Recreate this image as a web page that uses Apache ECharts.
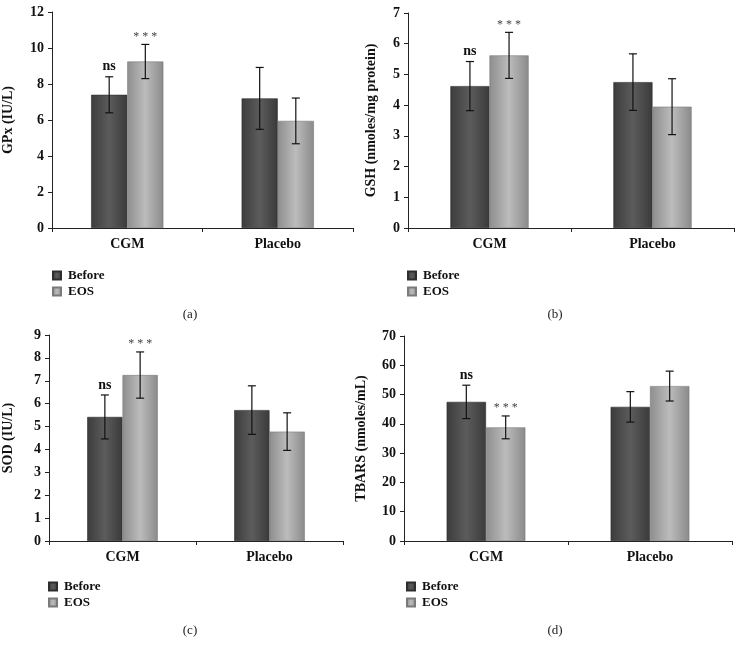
<!DOCTYPE html>
<html>
<head>
<meta charset="utf-8">
<script src="https://cdn.jsdelivr.net/npm/echarts@6/dist/echarts.min.js"></script>
<style>
  html, body { margin: 0; padding: 0; background: #fff; }
  #chart { width: 743px; height: 650px; }
</style>
</head>
<body>
<div id="chart"></div>
<script>
// data (mean, and half-length of error bar)
const categories = ["CGM", "Placebo"];
const seriesNames = ["Before", "EOS"];

const gpxBefore = [7.4, 7.2];
const gpxBeforeErr = [1.0, 1.72];
const gpxEos = [9.25, 5.95];
const gpxEosErr = [0.95, 1.27];

const gshBefore = [4.62, 4.75];
const gshBeforeErr = [0.8, 0.92];
const gshEos = [5.62, 3.95];
const gshEosErr = [0.75, 0.91];

const sodBefore = [5.42, 5.72];
const sodBeforeErr = [0.96, 1.06];
const sodEos = [7.25, 4.78];
const sodEosErr = [1.01, 0.82];

const tbarsBefore = [47.5, 45.8];
const tbarsBeforeErr = [5.7, 5.2];
const tbarsEos = [38.8, 52.9];
const tbarsEosErr = [3.9, 5.1];

const beforeSig = ["ns", ""];
const eosSig = ["***", ""];

const panels = [
  { name: "GPx (IU/L)", tag: "(a)", max: 12, step: 2, before: gpxBefore, beforeErr: gpxBeforeErr, eos: gpxEos, eosErr: gpxEosErr,
    grid: { left: 51, top: 12, width: 302, height: 216 }, nameGap: 37, legend: { left: 52, top: 269 }, title: { left: 185, top: 303 } },
  { name: "GSH (nmoles/mg protein)", tag: "(b)", max: 7, step: 1, before: gshBefore, beforeErr: gshBeforeErr, eos: gshEos, eosErr: gshEosErr,
    grid: { left: 408, top: 13, width: 326, height: 215 }, nameGap: 30, legend: { left: 407, top: 269 }, title: { left: 550, top: 303 } },
  { name: "SOD (IU/L)", tag: "(c)", max: 9, step: 1, before: sodBefore, beforeErr: sodBeforeErr, eos: sodEos, eosErr: sodEosErr,
    grid: { left: 48, top: 335, width: 295, height: 206 }, nameGap: 34, legend: { left: 48, top: 580 }, title: { left: 185, top: 619 } },
  { name: "TBARS (nmoles/mL)", tag: "(d)", max: 70, step: 10, before: tbarsBefore, beforeErr: tbarsBeforeErr, eos: tbarsEos, eosErr: tbarsEosErr,
    grid: { left: 404, top: 336, width: 328, height: 205 }, nameGap: 36, legend: { left: 406, top: 580 }, title: { left: 550, top: 619 } }
];

const serif = "'Liberation Serif', 'DejaVu Serif', serif";
const barWidthFrac = 0.24;

const beforeFill = new echarts.graphic.LinearGradient(0, 0, 1, 0, [
  { offset: 0, color: "#3c3c3c" },
  { offset: 0.5, color: "#5c5c5c" },
  { offset: 1, color: "#3a3a3a" }
]);
const eosFill = new echarts.graphic.LinearGradient(0, 0, 1, 0, [
  { offset: 0, color: "#8e8e8e" },
  { offset: 0.5, color: "#bcbcbc" },
  { offset: 1, color: "#8a8a8a" }
]);

function errorItem(side) {
  return function (params, api) {
    const cat = api.value(0);
    const lo = api.coord([cat, api.value(1)]);
    const hi = api.coord([cat, api.value(2)]);
    const band = api.size([1, 0])[0];
    const x = lo[0] + side * band * barWidthFrac / 2;
    const cap = 4;
    const lineStyle = { stroke: "#111", lineWidth: 1.2 };
    const children = [
      { type: "line", shape: { x1: x, y1: lo[1], x2: x, y2: hi[1] }, style: lineStyle },
      { type: "line", shape: { x1: x - cap, y1: lo[1], x2: x + cap, y2: lo[1] }, style: lineStyle },
      { type: "line", shape: { x1: x - cap, y1: hi[1], x2: x + cap, y2: hi[1] }, style: lineStyle }
    ];
    const sig = api.value(3);
    if (sig) {
      const isNs = sig === "ns";
      children.push({
        type: "text",
        style: {
          text: isNs ? sig : sig.split("").join(" "), x: x, y: hi[1] - (isNs ? 3 : 2),
          textAlign: "center", textVerticalAlign: "bottom",
          fill: isNs ? "#111" : "#444",
          font: (isNs ? "bold 14px " : "12px ") + serif
        }
      });
    }
    return { type: "group", children: children };
  };
}

const option = {
  animation: false,
  backgroundColor: "#fff",
  title: [],
  legend: [],
  grid: [],
  xAxis: [],
  yAxis: [],
  series: []
};

panels.forEach((p, i) => {
  option.grid.push(Object.assign({ containLabel: false }, p.grid));
  option.title.push({
    text: p.tag, left: p.title.left, top: p.title.top, textAlign: "center",
    textStyle: { fontFamily: serif, fontSize: 13, fontWeight: "normal", color: "#222" }
  });
  option.legend.push({
    data: seriesNames, orient: "vertical", left: p.legend.left, top: p.legend.top,
    padding: 0, itemWidth: 8, itemHeight: 8, itemGap: 3, icon: "rect",
    textStyle: { fontFamily: serif, fontSize: 13, fontWeight: "bold", color: "#111", padding: [0, 0, 0, 2] }
  });
  option.xAxis.push({
    type: "category", gridIndex: i, data: categories,
    axisLine: { lineStyle: { color: "#222", width: 1 } },
    axisTick: { show: true, length: 4, lineStyle: { color: "#222" } },
    axisLabel: { fontFamily: serif, fontSize: 14, fontWeight: "bold", color: "#111", margin: 9 }
  });
  option.yAxis.push({
    type: "value", gridIndex: i, min: 0, max: p.max, interval: p.step,
    name: p.name, nameLocation: "middle", nameGap: p.nameGap, nameRotate: 90,
    nameTextStyle: { fontFamily: serif, fontSize: 14, fontWeight: "bold", color: "#111" },
    axisLine: { show: true, lineStyle: { color: "#222", width: 1 } },
    axisTick: { show: true, length: 4, lineStyle: { color: "#222" } },
    splitLine: { show: false },
    axisLabel: { fontFamily: serif, fontSize: 14, fontWeight: "bold", color: "#111", margin: 8 }
  });
  option.series.push({
    name: "Before", type: "bar", xAxisIndex: i, yAxisIndex: i, data: p.before,
    barWidth: (barWidthFrac * 100) + "%", barGap: "0%",
    itemStyle: { color: beforeFill, borderColor: "#2e2e2e", borderWidth: 0.6 }
  });
  option.series.push({
    name: "EOS", type: "bar", xAxisIndex: i, yAxisIndex: i, data: p.eos,
    barWidth: (barWidthFrac * 100) + "%", barGap: "0%",
    itemStyle: { color: eosFill, borderColor: "#7a7a7a", borderWidth: 0.6 }
  });
  option.series.push({
    type: "custom", xAxisIndex: i, yAxisIndex: i, z: 5,
    renderItem: errorItem(-1),
    encode: { x: 0, y: [1, 2] },
    data: categories.map((c, k) => [k, p.before[k] - p.beforeErr[k], p.before[k] + p.beforeErr[k], beforeSig[k]])
  });
  option.series.push({
    type: "custom", xAxisIndex: i, yAxisIndex: i, z: 5,
    renderItem: errorItem(1),
    encode: { x: 0, y: [1, 2] },
    data: categories.map((c, k) => [k, p.eos[k] - p.eosErr[k], p.eos[k] + p.eosErr[k], eosSig[k]])
  });
});

const chart = echarts.init(document.getElementById("chart"), null, { renderer: "canvas" });
chart.setOption(option);
</script>
</body>
</html>
